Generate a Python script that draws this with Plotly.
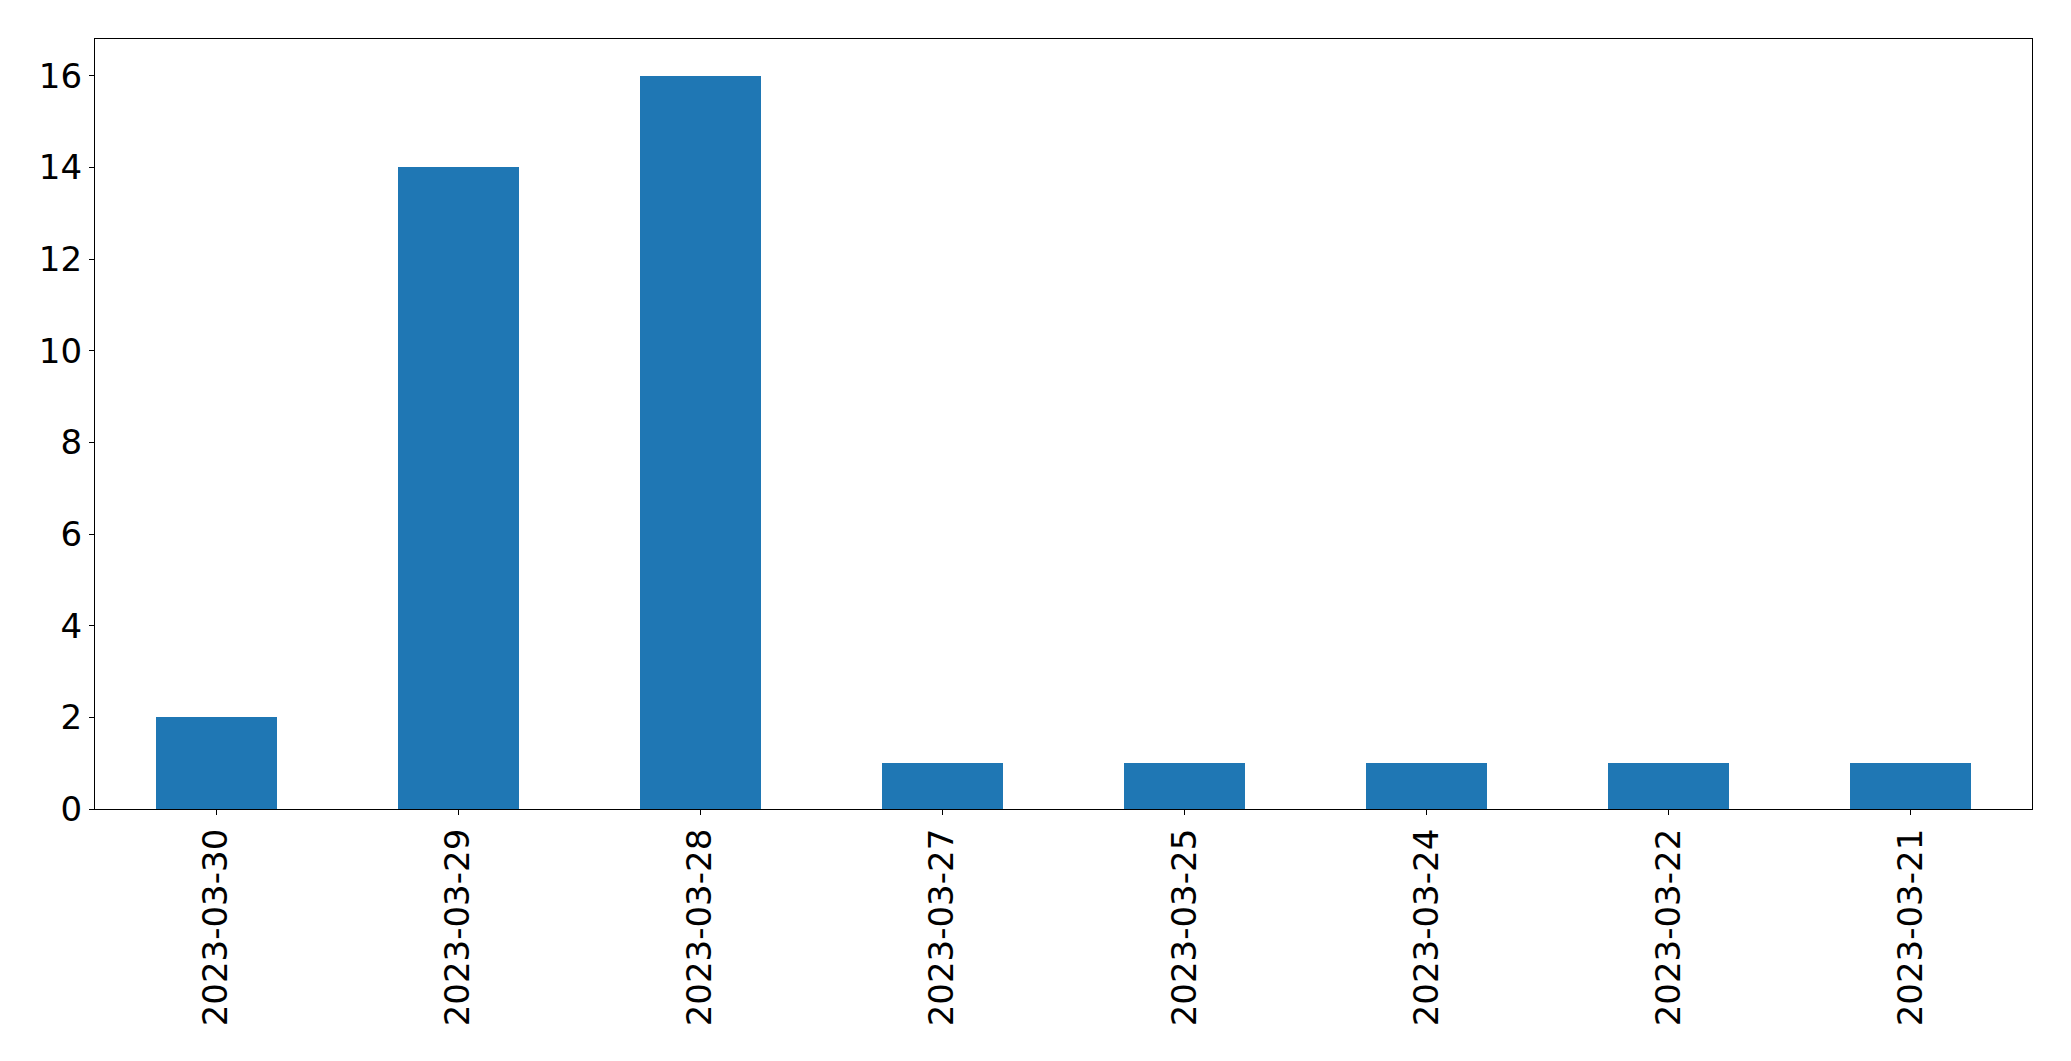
import plotly.graph_objects as go

dates = ["2023-03-30", "2023-03-29", "2023-03-28", "2023-03-27",
         "2023-03-25", "2023-03-24", "2023-03-22", "2023-03-21"]
counts = [2, 14, 16, 1, 1, 1, 1, 1]
y_ticks = [0, 2, 4, 6, 8, 10, 12, 14, 16]

fig = go.Figure(go.Bar(
    x=list(range(len(dates))), y=counts, width=0.5,
    marker=dict(color="#1f77b4", line=dict(width=0)),
))

font = dict(family="DejaVu Sans", size=34, color="black")
fig.update_layout(
    width=2071, height=1061,
    margin=dict(l=86.5, r=47, t=31, b=260),
    paper_bgcolor="white", plot_bgcolor="white",
    showlegend=False, bargap=0,
)
fig.update_xaxes(
    range=[-0.5, len(dates) - 0.5],
    tickmode="array", tickvals=list(range(len(dates))), ticktext=dates,
    tickangle=-90, tickfont=font,
    ticks="outside", ticklen=5, tickwidth=1.3, tickcolor="black",
    showline=True, linecolor="black", linewidth=1.3, mirror=True,
    showgrid=False, zeroline=False,
)
fig.update_yaxes(
    range=[0, 16.8],
    tickmode="array", tickvals=y_ticks,
    tickfont=font,
    ticks="outside", ticklen=5, tickwidth=1.3, tickcolor="black",
    showline=True, linecolor="black", linewidth=1.3, mirror=True,
    showgrid=False, zeroline=False,
)
fig.write_html("out.html")
